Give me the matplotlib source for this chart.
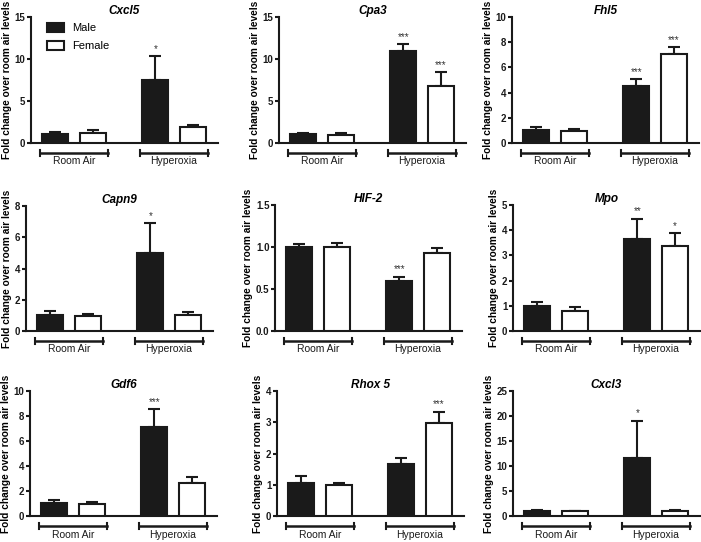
import numpy as np
import matplotlib
matplotlib.use("Agg")
import matplotlib.pyplot as plt
import matplotlib.transforms as mtransforms
from matplotlib.patches import Patch

plt.rcParams['font.family'] = ['Liberation Sans', 'DejaVu Sans']

genes = ["Cxcl5", "Cpa3", "Fhl5", "Capn9", "HIF-2", "Mpo", "Gdf6", "Rhox 5", "Cxcl3"]
groups = ["Room Air", "Hyperoxia"]

# means [RA, Hyp] and upper SEM, per gene
male_mean = [[1.08, 7.45], [1.03, 10.97], [1.01, 4.49], [1.05, 5.0], [0.996, 0.59],
             [0.99, 3.65], [1.01, 7.09], [1.06, 1.65], [0.93, 11.7]]
male_err = [[0.22, 2.9], [0.17, 0.8], [0.24, 0.61], [0.23, 1.9], [0.04, 0.057],
            [0.15, 0.81], [0.24, 1.44], [0.22, 0.22], [0.2, 7.4]]
female_mean = [[1.2, 1.85], [0.98, 6.78], [0.98, 7.07], [0.96, 1.0], [1.0, 0.93],
               [0.78, 3.36], [0.96, 2.61], [0.99, 2.99], [0.93, 1.0]]
female_err = [[0.4, 0.35], [0.16, 1.68], [0.14, 0.53], [0.11, 0.24], [0.05, 0.06],
              [0.16, 0.51], [0.16, 0.48], [0.06, 0.35], [0.17, 0.27]]
male_stars = [["", "*"], ["", "***"], ["", "***"], ["", "*"], ["", "***"],
              ["", "**"], ["", "***"], ["", ""], ["", "*"]]
female_stars = [["", ""], ["", "***"], ["", "***"], ["", ""], ["", ""],
                ["", "*"], ["", ""], ["", "***"], ["", ""]]
y_max = [15, 15, 10, 8, 1.5, 5, 10, 4, 25]
y_step = [5, 5, 2, 2, 0.5, 1, 2, 1, 5]

W, H = 701, 542
# axes boxes in pixels: left, top, bottom
lefts = [31, 279, 512, 26, 275, 513, 30, 277, 513]
tops = [17, 17, 17, 206, 205, 205, 391, 391, 391]
bottoms = [143, 143, 143, 331, 331, 331, 516, 516, 516]
ax_w = 187

fig = plt.figure(figsize=(W / 100, H / 100), dpi=100)

centers = np.array([1.65, 5.5])
off = 0.72
bw = 1.0

for i, g in enumerate(genes):
    ax = fig.add_axes([lefts[i] / W, 1 - bottoms[i] / H, ax_w / W, (bottoms[i] - tops[i]) / H])
    ax.bar(centers - off, male_mean[i], bw, color="#1a1a1a", edgecolor="#1a1a1a", lw=1.5, zorder=3)
    ax.bar(centers + off, female_mean[i], bw, color="white", edgecolor="#1a1a1a", lw=1.5, zorder=3)
    for xs, m, e in [(centers - off, male_mean[i], male_err[i]), (centers + off, female_mean[i], female_err[i])]:
        ax.errorbar(xs, m, yerr=[np.zeros(2), e], fmt="none", ecolor="#1a1a1a",
                    elinewidth=1.5, capsize=4, capthick=1.5, zorder=2)
    for xs, m, e, st in [(centers - off, male_mean[i], male_err[i], male_stars[i]),
                         (centers + off, female_mean[i], female_err[i], female_stars[i])]:
        for x, mv, ev, s in zip(xs, m, e, st):
            if s:
                ax.annotate(s, (x, mv + ev), xytext=(0, 1.5), textcoords="offset points",
                            ha="center", va="bottom", fontsize=7, color="#333333")
    ax.set_xlim(0, ax_w / 26)
    ax.set_ylim(0, y_max[i])
    ax.set_yticks(np.arange(0, y_max[i] + y_step[i] / 2, y_step[i]))
    if y_step[i] < 1:
        ax.set_yticklabels([f"{v:.1f}" for v in ax.get_yticks()])
    ax.set_xticks([])
    for s in ["top", "right"]:
        ax.spines[s].set_visible(False)
    for s in ["left", "bottom"]:
        ax.spines[s].set_linewidth(1.5)
        ax.spines[s].set_color("#1a1a1a")
    ax.tick_params(axis="y", length=3, width=1.5, pad=1, labelsize=7, colors="#1a1a1a")
    for lab in ax.get_yticklabels():
        lab.set_fontweight("bold")
    ax.set_ylabel("Fold change over room air levels", fontsize=7.3, fontweight="bold", labelpad=2)
    ax.set_title(g, fontsize=8.5, fontweight="bold", style="italic", pad=2)

    trans = mtransforms.blended_transform_factory(ax.transData, ax.transAxes)
    hpx = bottoms[i] - tops[i]
    yb = -9.5 / hpx
    cap = 3 / hpx
    for c, name in zip(centers, groups):
        ax.plot([c - 1.3, c + 1.3], [yb, yb], color="#1a1a1a", lw=1.8, transform=trans, clip_on=False)
        for xe in [c - 1.3, c + 1.3]:
            ax.plot([xe, xe], [yb - cap, yb + cap], color="#1a1a1a", lw=1.5, transform=trans, clip_on=False)
        ax.text(c, yb - 4 / hpx, name, transform=trans, ha="center", va="top",
                fontsize=7.5, color="#1a1a1a")

    if i == 0:
        handles = [Patch(facecolor="#1a1a1a", edgecolor="#1a1a1a", lw=1.5, label="Male"),
                   Patch(facecolor="white", edgecolor="#1a1a1a", lw=1.5, label="Female")]
        ax.legend(handles=handles, loc="upper left", bbox_to_anchor=(0.03, 1.03), frameon=False,
                  fontsize=8, handlelength=1.6, handleheight=0.8, labelspacing=0.7, handletextpad=0.7)

fig.savefig("out.png", dpi=100)
